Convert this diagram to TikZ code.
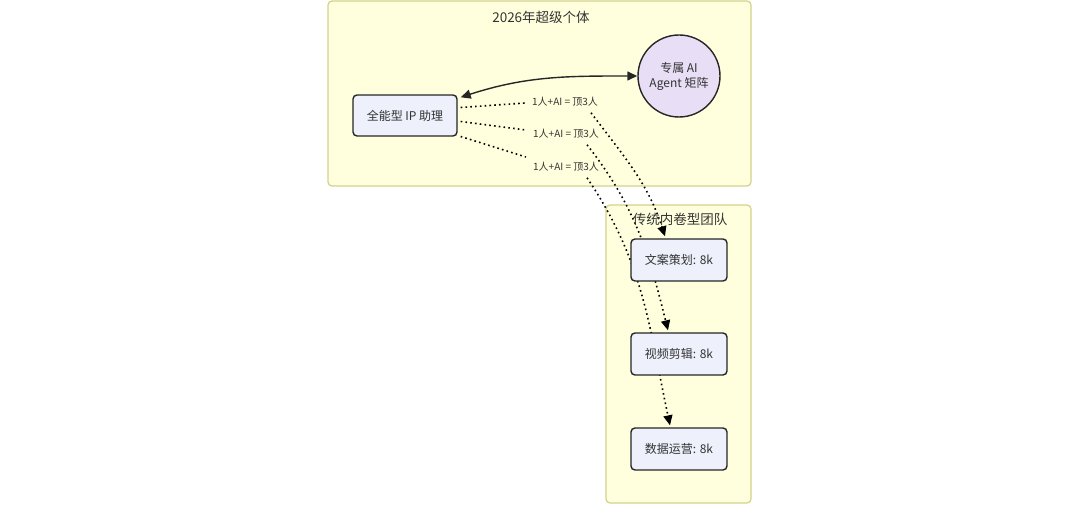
\documentclass[tikz,border=0pt]{standalone}
\usepackage{fontspec}
\setmainfont{Noto Sans CJK SC}
\usetikzlibrary{arrows.meta,calc,shapes.geometric}
\pgfdeclarelayer{back}
\pgfdeclarelayer{mid}
\pgfsetlayers{back,mid,main}
\definecolor{clfill}{HTML}{FFFFDE}
\definecolor{clstroke}{HTML}{D2D28C}
\definecolor{nodefill}{HTML}{EEF1FB}
\definecolor{circfill}{HTML}{E8DFF6}
\definecolor{txt}{HTML}{333333}
\tikzset{
  cluster/.style={draw=clstroke, fill=clfill, line width=1.2pt, rounded corners=4pt},
  box/.style={draw=black!85, fill=nodefill, line width=1.4pt, rounded corners=4pt,
    minimum width=96pt, minimum height=42pt, text=txt, font=\fontsize{12}{14}\selectfont, inner sep=0pt},
  circ/.style={circle, draw=black!85, fill=circfill, line width=1.4pt, minimum size=82pt,
    text=txt, font=\fontsize{12}{15}\selectfont, align=center, inner sep=0pt},
  lbl/.style={text=txt, font=\fontsize{10}{12}\selectfont, inner sep=1pt},
  cltitle/.style={text=txt, font=\fontsize{13.5}{16}\selectfont, inner sep=0pt},
  dotline/.style={line width=1.6pt, dash pattern=on 1.6pt off 3.2pt, line cap=butt},
  tip/.style={-{Triangle[length=10pt,width=9pt]}},
}
\begin{document}
\begin{tikzpicture}[x=1pt,y=-1pt]
\useasboundingbox (0,0) rectangle (1080,516);
\begin{pgfonlayer}{back}
\fill[white] (0,0) rectangle (1080,516);
\node[cluster, minimum width=423pt, minimum height=185pt, inner sep=0pt] (top) at (539.5,93.5) {};
\node[cluster, minimum width=145pt, minimum height=298pt, inner sep=0pt] (bot) at (678.5,354) {};
\end{pgfonlayer}
\node[cltitle] (ttop) at (541,17) {2026年超级个体};
\node[cltitle] (tbot) at (680,219) {传统内卷型团队};
% nodes
\node[box, minimum width=104pt, minimum height=41pt] (ip) at (405,115.5) {全能型 IP 助理};
\node[circ] (agent) at (679,76) {专属 AI\\Agent 矩阵};
\node[box] (wa) at (679,260) {文案策划: 8k};
\node[box] (sp) at (679,354) {视频剪辑: 8k};
\node[box] (sj) at (679,449) {数据运营: 8k};
\node[lbl] (l1) at (565,102) {1人+AI = 顶3人};
\node[lbl] (l2) at (566,134) {1人+AI = 顶3人};
\node[lbl] (l3) at (566,167) {1人+AI = 顶3人};
% edges
\draw[{Triangle[length=10pt,width=9pt]}-{Triangle[length=10pt,width=9pt]}, line width=1.4pt, black!85]
  ($(ip.north east)+(3,3)$) to[out=18,in=180] (agent.west);
\begin{pgfonlayer}{mid}
\draw[dotline] ($(ip.east)+(3,-8)$) -- ($(l1.west)+(-6,1)$);
\draw[dotline] ($(ip.east)+(3,6)$) -- ($(l2.west)+(-6,-4)$);
\draw[dotline] ($(ip.east)+(3,21)$) -- ($(l3.west)+(-6,-10)$);
\draw[dotline, tip] ($(l1.south east)+(-8,5)$) to[out=-53,in=108] ($(wa.north)+(-14,-2)$);
\draw[dotline, tip] ($(l2.south east)+(-13,5)$) to[out=-52,in=104] ($(sp.north)+(-11,-2)$);
\draw[dotline, tip] ($(l3.south east)+(-13,5)$) to[out=-56,in=102] ($(sj.north)+(-9,-2)$);
\end{pgfonlayer}
\end{tikzpicture}
\end{document}
